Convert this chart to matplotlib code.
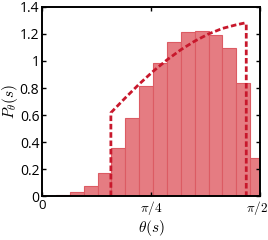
import numpy as np
import matplotlib
matplotlib.use("Agg")
import matplotlib.pyplot as plt
import matplotlib.transforms as mtransforms

plt.rcParams['mathtext.fontset'] = 'cm'
plt.rcParams['font.family'] = ['Open Sans', 'DejaVu Sans']

# histogram bins (rad) and heights
bin_edges = [0.0, 0.1, 0.2, 0.3, 0.4, 0.5, 0.6, 0.7, 0.8, 0.9, 1.0,
             1.1, 1.2, 1.3, 1.4, 1.5, 1.6]
heights = [0.0, 0.01, 0.03, 0.074, 0.17, 0.355, 0.58, 0.815, 0.987,
           1.14, 1.215, 1.222, 1.195, 1.096, 0.84, 0.28]

# theoretical dashed curve
theory_x = [0.496, 0.496, 0.6, 0.7, 0.8, 0.9, 1.0, 1.1, 1.2, 1.3, 1.4, 1.46, 1.472, 1.472]
theory_y = [0.0, 0.617, 0.727, 0.829, 0.923, 1.008, 1.083, 1.147, 1.200,
            1.241, 1.268, 1.281, 1.275, 0.0]

xticks = [0, np.pi / 4, np.pi / 2]
xticklabels = ['0', r'$\pi/4$', r'$\pi/2$']
yticks = [0, 0.2, 0.4, 0.6, 0.8, 1.0, 1.2, 1.4]
yticklabels = ['0', '0.2', '0.4', '0.6', '0.8', '1', '1.2', '1.4']

fig = plt.figure(figsize=(2.68, 2.40), dpi=100)
ax = fig.add_axes([0.157, 0.183, 0.813, 0.788])

left = bin_edges[:-1]
widths = np.diff(bin_edges)
ax.bar(left, heights, width=widths, align='edge', color='#e57c82',
       edgecolor='#dc5b63', linewidth=0.8)
ax.plot(theory_x, theory_y, linestyle=(0, (2.0, 1.0)), color='#c8182c', lw=2.0)

ax.set_xlim(0, np.pi / 2)
ax.set_ylim(0, 1.4)
ax.set_xticks(xticks)
ax.set_xticklabels(xticklabels, fontsize=9.5)
ax.set_yticks(yticks)
ax.set_yticklabels(yticklabels, fontsize=10)
ax.tick_params(direction='in', top=True, right=True, length=3, width=1, pad=2)
for s in ax.spines.values():
    s.set_linewidth(1.4)
ax.set_xlabel(r'$\theta(s)$', fontsize=11, labelpad=1)
ax.set_ylabel(r'$P_\theta(s)$', fontsize=11, labelpad=0)

last = ax.get_xticklabels()[-1]
last.set_transform(last.get_transform() +
                   mtransforms.ScaledTranslation(-3 / 100, 0, fig.dpi_scale_trans))

fig.savefig('out.png', dpi=100)
